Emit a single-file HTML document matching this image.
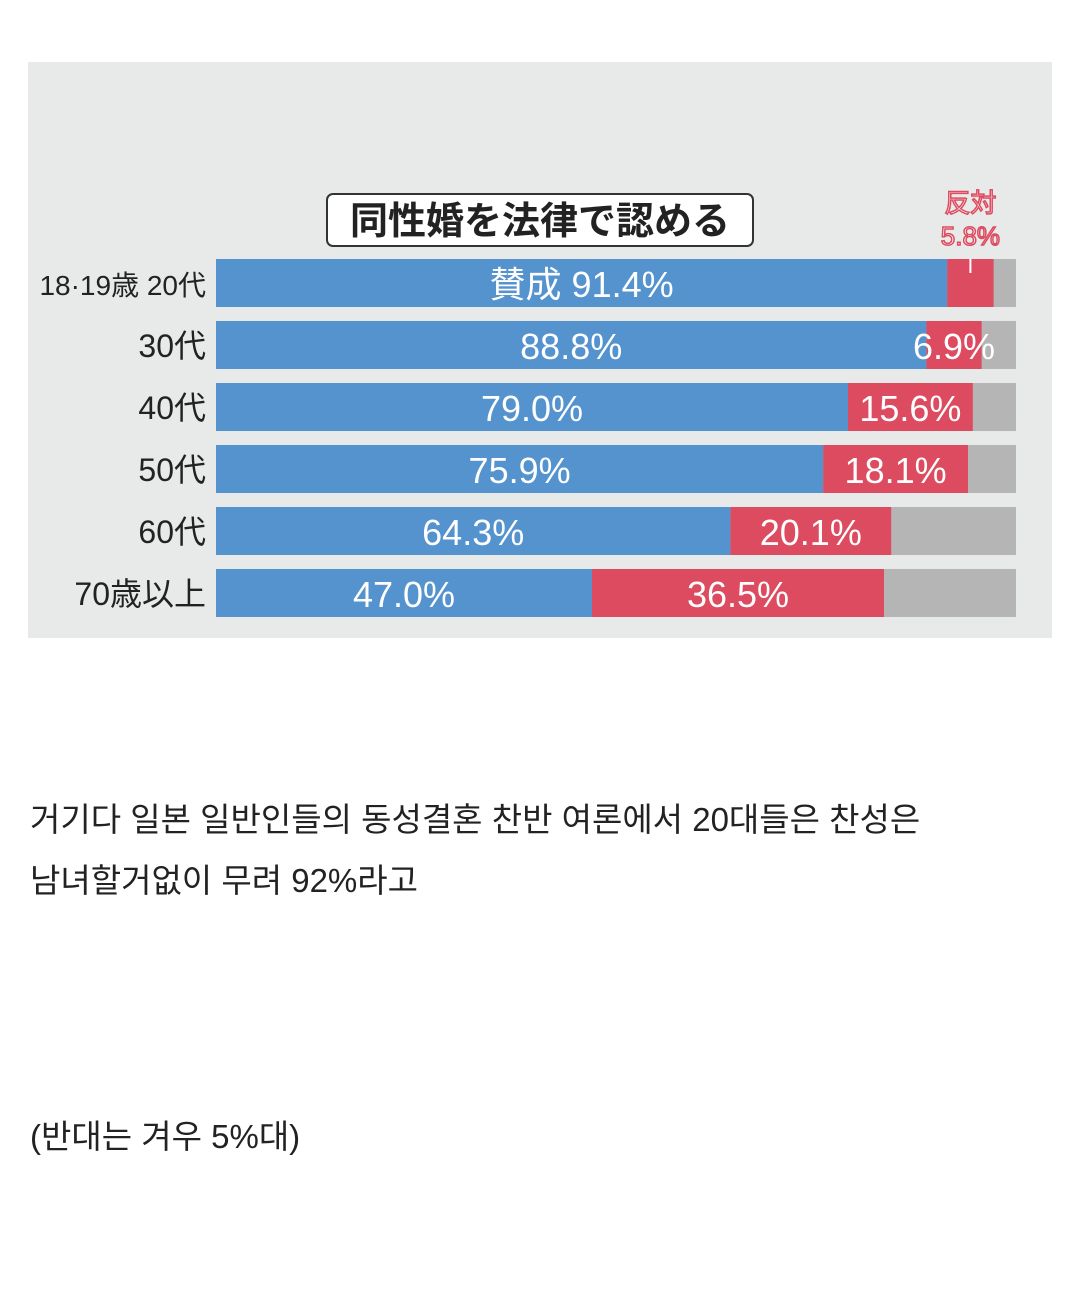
<!DOCTYPE html>
<html><head><meta charset="utf-8">
<style>
body{margin:0;width:1080px;height:1306px;background:#fff;position:relative;overflow:hidden;font-family:"Liberation Sans","Noto Sans CJK JP",sans-serif}
#chart{position:absolute;left:28px;top:62px;width:1024px;height:576px;background:#e8eaea}
.t{position:absolute;font-family:"Liberation Sans","Noto Sans CJK KR",sans-serif;font-size:33px;color:#222;left:30px;white-space:nowrap}
</style></head><body>
<div id="chart">
<svg id="svg" width="1024" height="576"></svg>
</div>
<div class="t" style="top:793px">거기다 일본 일반인들의 동성결혼 찬반 여론에서 20대들은 찬성은</div>
<div class="t" style="top:854px">남녀할거없이 무려 92%라고</div>
<div class="t" style="top:1110px">(반대는 겨우 5%대)</div>
<script>
const categories=["18·19歳 20代","30代","40代","50代","60代","70歳以上"];
const favor=[91.4,88.8,79.0,75.9,64.3,47.0];
const oppose=[5.8,6.9,15.6,18.1,20.1,36.5];
const NS="http://www.w3.org/2000/svg";
const svg=document.getElementById('svg');
const X0=188,W=800;
const x=v=>X0+v/100*W;
const rowY=i=>197+i*62;
const H=48;
function mk(tag,attrs,parent){const e=document.createElementNS(NS,tag);for(const k in attrs)e.setAttribute(k,attrs[k]);(parent||svg).appendChild(e);return e;}
// title
const tb=mk('rect',{x:299,y:132,width:426,height:52,rx:6,fill:'#fff',stroke:'#333','stroke-width':2});


const tt=mk('text',{x:512,y:172,'text-anchor':'middle','font-size':38,'font-weight':'bold',fill:'#222'});
tt.textContent='同性婚を法律で認める';


categories.forEach((c,i)=>{
  const y=rowY(i);
  const g=mk('rect',{x:x(0),y:y,width:W,height:H,fill:'#b5b5b5'});
  
  
  const b=mk('rect',{x:x(0),y:y,width:x(favor[i])-x(0),height:H,fill:'#5593cf'});
  
  
  const r=mk('rect',{x:x(favor[i]),y:y,width:x(favor[i]+oppose[i])-x(favor[i]),height:H,fill:'#dc4b5f'});
  
  
  const l=mk('text',{x:178,y:y+36,'text-anchor':'end','font-size':i==0?28:32,fill:'#222'});
  l.textContent=c;
  
  
  const fl=mk('text',{x:(x(0)+x(favor[i]))/2,y:y+38,'text-anchor':'middle','font-size':36,fill:'#fff'});
  fl.textContent=(i==0?'賛成 ':'')+favor[i].toFixed(1)+'%';
  
  
  if(i>0){
    const ol=mk('text',{x:(x(favor[i])+x(favor[i]+oppose[i]))/2,y:y+38,'text-anchor':'middle','font-size':36,fill:'#fff'});
    ol.textContent=oppose[i].toFixed(1)+'%';
    
    
  }else{
    const cx=(x(favor[0])+x(favor[0]+oppose[0]))/2;
    const a=mk('text',{x:cx,y:150,'text-anchor':'middle','font-size':26,fill:'#fff',stroke:'#dc4b5f','stroke-width':1.5});
    a.textContent='反対';
    
    
    const v=mk('text',{x:cx,y:183,'text-anchor':'middle','font-size':26,fill:'#fff',stroke:'#dc4b5f','stroke-width':1.5});
    v.textContent=oppose[0].toFixed(1)+'%';
    
    
    const ln=mk('line',{x1:cx,y1:y,x2:cx,y2:y+14,stroke:'#fff','stroke-width':2});
    
    
  }
});
</script>
</body></html>
